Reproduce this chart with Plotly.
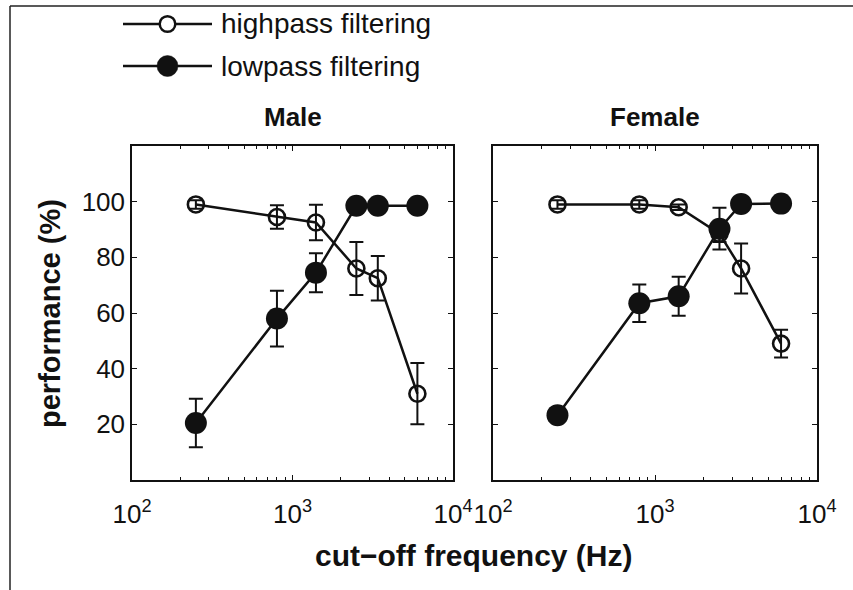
import plotly.graph_objects as go

# ---------------- data ----------------
freq = [250, 800, 1400, 2500, 3400, 6000]

male_high = [99, 94.5, 92.5, 76, 72.5, 31]
male_high_err = [1.5, 4.2, 6.4, 9.5, 8, 11]
male_low = [20.5, 58, 74.5, 98.5, 98.5, 98.5]
male_low_err = [8.7, 10, 7, 0, 0, 0]

female_high = [99, 99, 98, 88.5, 76, 49]
female_high_err = [1.5, 1.5, 1, 3, 9, 5]
female_low = [23.3, 63.5, 66, 90.3, 99.2, 99.3]
female_low_err = [0, 6.7, 7, 7.5, 0, 0]

panel_titles = ["Male", "Female"]
series_names = ["highpass filtering", "lowpass filtering"]
y_ticks = [20, 40, 60, 80, 100]
x_ticks = [100, 1000, 10000]
x_ticktext = ["10<sup>2</sup>", "10<sup>3</sup>", "10<sup>4</sup>"]
x_minor = [200, 300, 400, 500, 600, 700, 800, 900,
           2000, 3000, 4000, 5000, 6000, 7000, 8000, 9000]

# ---------------- layout geometry (pixels) ----------------
W, H = 853, 590
L, R, T, B = 132, 36, 146, 110
PW = W - L - R
PH = H - T - B


def px(x):
    return (x - L) / PW


def py(y):
    return (H - B - y) / PH


FONT = "Liberation Sans, Arial, sans-serif"
BLACK = "#111111"

fig = go.Figure()


def add_panel(xa, ya, high, high_err, low, low_err):
    fig.add_trace(go.Scatter(
        x=freq, y=high, mode="lines+markers", xaxis=xa, yaxis=ya,
        line=dict(color=BLACK, width=2.5),
        marker=dict(symbol="circle-open", size=16, color=BLACK,
                    line=dict(width=2.6, color=BLACK)),
        error_y=dict(type="data", array=high_err, visible=True,
                     color=BLACK, thickness=2, width=7),
        showlegend=False, name=series_names[0]))
    fig.add_trace(go.Scatter(
        x=freq, y=low, mode="lines+markers", xaxis=xa, yaxis=ya,
        line=dict(color=BLACK, width=2.5),
        marker=dict(symbol="circle", size=22, color=BLACK,
                    line=dict(width=0)),
        error_y=dict(type="data", array=low_err, visible=True,
                     color=BLACK, thickness=2, width=7),
        showlegend=False, name=series_names[1]))


add_panel("x", "y", male_high, male_high_err, male_low, male_low_err)
add_panel("x2", "y2", female_high, female_high_err, female_low, female_low_err)

d1 = [0, px(453)]
d2 = [px(493), 1]

xcommon = dict(
    type="log", range=[2, 4], tickmode="array", tickvals=x_ticks,
    ticktext=x_ticktext, ticks="inside", ticklen=5, tickwidth=1.2,
    tickcolor=BLACK, showgrid=False, zeroline=False, showline=True,
    linecolor=BLACK, linewidth=1.5, mirror="ticks",
    ticklabelstandoff=10,
    tickfont=dict(family=FONT, size=26, color=BLACK),
    minor=dict(tickmode="array", tickvals=x_minor, ticks="inside",
               ticklen=3, tickwidth=1, tickcolor=BLACK, showgrid=False),
)
ycommon = dict(
    range=[0, 120], tickmode="array", tickvals=y_ticks,
    ticks="inside", ticklen=5, tickwidth=1.2, tickcolor=BLACK,
    showgrid=False, zeroline=False, showline=True, linecolor=BLACK,
    linewidth=1.5, mirror="ticks",
    tickfont=dict(family=FONT, size=26, color=BLACK),
)

fig.update_layout(
    width=W, height=H,
    margin=dict(l=L, r=R, t=T, b=B),
    paper_bgcolor="white", plot_bgcolor="white",
    showlegend=False,
    xaxis=dict(domain=d1, anchor="y", **xcommon),
    xaxis2=dict(domain=d2, anchor="y2", **xcommon),
    yaxis=dict(domain=[0, 1], anchor="x", **ycommon),
    yaxis2=dict(domain=[0, 1], anchor="x2", showticklabels=False, **ycommon),
)

shapes = []
annotations = []

# outer frame lines (left & top)
shapes.append(dict(type="line", xref="paper", yref="paper",
                   x0=px(10), x1=px(10), y0=py(H), y1=py(6),
                   line=dict(color="#222222", width=1.5)))
shapes.append(dict(type="line", xref="paper", yref="paper",
                   x0=px(10), x1=px(W), y0=py(6), y1=py(6),
                   line=dict(color="#222222", width=1.5)))

# custom legend
leg_rows = [24, 66]
for i, yrow in enumerate(leg_rows):
    shapes.append(dict(type="line", xref="paper", yref="paper",
                       x0=px(123), x1=px(212), y0=py(yrow), y1=py(yrow),
                       line=dict(color=BLACK, width=2.6)))
    if i == 0:
        r = 7.8
        shapes.append(dict(type="circle", xref="paper", yref="paper",
                           xsizemode="pixel", ysizemode="pixel",
                           xanchor=px(167.5), yanchor=py(yrow),
                           x0=-r, x1=r, y0=-r, y1=r,
                           fillcolor="white", line=dict(color=BLACK, width=2.5)))
    else:
        r = 10.5
        shapes.append(dict(type="circle", xref="paper", yref="paper",
                           xsizemode="pixel", ysizemode="pixel",
                           xanchor=px(167.5), yanchor=py(yrow),
                           x0=-r, x1=r, y0=-r, y1=r,
                           fillcolor=BLACK, line=dict(color=BLACK, width=0.5)))
    annotations.append(dict(xref="paper", yref="paper", x=px(219), y=py(yrow),
                            xanchor="left", yanchor="middle", showarrow=False,
                            text=series_names[i],
                            font=dict(family=FONT, size=28, color=BLACK)))

# panel titles
annotations.append(dict(xref="paper", yref="paper", x=(d1[0] + d1[1]) / 2,
                        y=py(117), xanchor="center", yanchor="middle",
                        showarrow=False, text="<b>%s</b>" % panel_titles[0],
                        font=dict(family=FONT, size=26, color=BLACK)))
annotations.append(dict(xref="paper", yref="paper", x=(d2[0] + d2[1]) / 2,
                        y=py(117), xanchor="center", yanchor="middle",
                        showarrow=False, text="<b>%s</b>" % panel_titles[1],
                        font=dict(family=FONT, size=26, color=BLACK)))

# axis titles
annotations.append(dict(xref="paper", yref="paper", x=px(50), y=py(314),
                        xanchor="center", yanchor="middle", showarrow=False,
                        textangle=-90, text="<b>performance (%)</b>",
                        font=dict(family=FONT, size=29, color=BLACK)))
annotations.append(dict(xref="paper", yref="paper", x=px(474), y=py(555),
                        xanchor="center", yanchor="middle", showarrow=False,
                        text="<b>cut\u2212off frequency (Hz)</b>",
                        font=dict(family=FONT, size=30, color=BLACK)))

fig.update_layout(shapes=shapes, annotations=annotations)

fig.write_html("out.html")
